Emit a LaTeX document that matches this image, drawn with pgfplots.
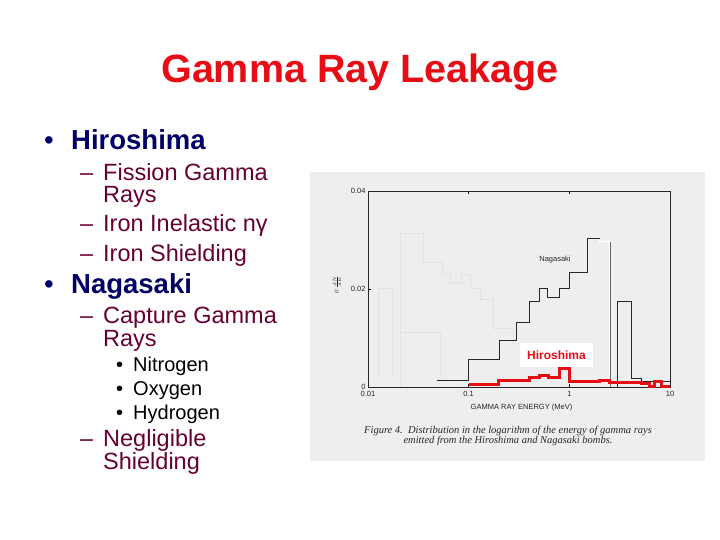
\documentclass[border=0pt]{standalone}
\usepackage{pgfplots}
\pgfplotsset{compat=1.18}
\usepackage{fontspec}
\setmainfont{Liberation Sans}
\newfontfamily\capfont{Liberation Serif}

\definecolor{titlered}{RGB}{232,12,20}
\definecolor{navy}{RGB}{0,0,102}
\definecolor{maroon}{RGB}{102,0,51}
\definecolor{imgbg}{RGB}{238,238,238}
\definecolor{ink}{RGB}{40,40,40}

\begin{document}
\begin{tikzpicture}
% slide canvas, 1pt = 1px
\path[fill=white,use as bounding box] (0,0) rectangle (720pt,-540pt);

% title
\node[anchor=base,inner sep=0,text=titlered,font=\fontsize{39.5}{46}\selectfont\bfseries]
  at (360pt,-82.7pt) {Gamma Ray Leakage};

% bullet list
\begin{scope}[every node/.style={anchor=base west,inner sep=0}]
  \node[text=navy,font=\fontsize{27.5}{30}\selectfont] at (44pt,-150pt) {•};
  \node[text=navy,font=\fontsize{27.5}{30}\selectfont\bfseries] at (71pt,-150pt) {Hiroshima};
  \node[text=maroon,font=\fontsize{23.5}{26}\selectfont] at (80pt,-180.7pt) {–};
  \node[text=maroon,font=\fontsize{23.5}{26}\selectfont] at (103pt,-180.7pt) {Fission Gamma};
  \node[text=maroon,font=\fontsize{23.5}{26}\selectfont] at (103pt,-202.7pt) {Rays};
  \node[text=maroon,font=\fontsize{23.5}{26}\selectfont] at (80pt,-232pt) {–};
  \node[text=maroon,font=\fontsize{23.5}{26}\selectfont] at (103pt,-232pt) {Iron Inelastic nγ};
  \node[text=maroon,font=\fontsize{23.5}{26}\selectfont] at (80pt,-261.7pt) {–};
  \node[text=maroon,font=\fontsize{23.5}{26}\selectfont] at (103pt,-261.7pt) {Iron Shielding};
  \node[text=navy,font=\fontsize{27.5}{30}\selectfont] at (44pt,-293pt) {•};
  \node[text=navy,font=\fontsize{27.5}{30}\selectfont\bfseries] at (71pt,-293pt) {Nagasaki};
  \node[text=maroon,font=\fontsize{23.5}{26}\selectfont] at (80pt,-323pt) {–};
  \node[text=maroon,font=\fontsize{23.5}{26}\selectfont] at (103pt,-323pt) {Capture Gamma};
  \node[text=maroon,font=\fontsize{23.5}{26}\selectfont] at (103pt,-346pt) {Rays};
  \node[text=black,font=\fontsize{20}{22}\selectfont] at (116pt,-371.7pt) {•};
  \node[text=black,font=\fontsize{20}{22}\selectfont] at (133pt,-371.7pt) {Nitrogen};
  \node[text=black,font=\fontsize{20}{22}\selectfont] at (116pt,-395.7pt) {•};
  \node[text=black,font=\fontsize{20}{22}\selectfont] at (133pt,-395.7pt) {Oxygen};
  \node[text=black,font=\fontsize{20}{22}\selectfont] at (116pt,-419.3pt) {•};
  \node[text=black,font=\fontsize{20}{22}\selectfont] at (133pt,-419.3pt) {Hydrogen};
  \node[text=maroon,font=\fontsize{23.5}{26}\selectfont] at (80pt,-446.7pt) {–};
  \node[text=maroon,font=\fontsize{23.5}{26}\selectfont] at (103pt,-446.7pt) {Negligible};
  \node[text=maroon,font=\fontsize{23.5}{26}\selectfont] at (103pt,-469pt) {Shielding};
\end{scope}

% scanned figure background
\fill[imgbg] (310pt,-172pt) rectangle (705pt,-461pt);

\begin{axis}[
    at={(368pt,-387pt)}, anchor=south west,
    scale only axis, width=302pt, height=196pt,
    xmode=log, xmin=0.01, xmax=10, ymin=0, ymax=0.04,
    xtick={0.01,0.1,1,10}, xticklabels={0.01,0.1,1,10},
    ytick={0,0.02,0.04}, yticklabels={0,0.02,0.04},
    scaled y ticks=false,
    xminorticks=false, ytick pos=left,
    tick align=inside, major tick length=3pt,
    tick style={black, line width=0.6pt},
    axis line style={line width=0.9pt, black!85},
    ticklabel style={font=\fontsize{7.5}{8}\selectfont, text=ink},
    xticklabel style={yshift=-0.5pt},
    yticklabel style={xshift=1pt},
    /pgf/number format/assume math mode=true,
    clip=false,
  ]
  % faint show-through of the reverse page
  \addplot[black!11, line width=0.6pt, const plot] coordinates {
    (0.0208,0) (0.0208,0.0314) (0.0352,0.0255) (0.0543,0.0233) (0.0652,0.0212)
    (0.0852,0.0229) (0.103,0.0202) (0.1295,0.0178) (0.174,0.0120) (0.275,0.0090) (0.35,0.0090)
  };
  \addplot[black!11, line width=0.6pt] coordinates {
    (0.0126,0.0025) (0.0126,0.0202) (0.0173,0.0202) (0.0173,0.0025)
  };
  \addplot[black!11, line width=0.6pt] coordinates {
    (0.0208,0.0112) (0.0518,0.0112) (0.0518,0.0020)
  };

  % Nagasaki
  \addplot[black!85, line width=0.9pt, const plot] coordinates {
    (0.049,0.0013) (0.1,0.0057) (0.2,0.0094) (0.3,0.0131) (0.4,0.0174)
    (0.5,0.0201) (0.6,0.0183) (0.8,0.0201) (1.0,0.0233) (1.5,0.0303) (2.0,0.0303)
  };
  \addplot[white, line width=0.9pt] coordinates {
    (2.0,0.0303) (2.0,0.0297) (2.5,0.0297) (2.5,0)
  };
  \addplot[black!60, line width=0.6pt] coordinates {(2.58,0.0296) (2.58,0)};
  \addplot[black!85, line width=0.9pt, const plot] coordinates {
    (2.58,0) (3.0,0.0174) (4.1,0.0018) (5.2,0.0011) (10,0.0011)
  };

  % Hiroshima
  \addplot[titlered, line width=3pt, const plot] coordinates {
    (0.1,0.0006) (0.2,0.0014) (0.4,0.0019) (0.5,0.0023) (0.62,0.0019)
    (0.8,0.0038) (1.0,0.0012) (2.0,0.0014) (2.5,0.0009) (5.2,0.00075)
    (6.2,0.0002) (7.0,0.0012) (8.3,0.0002) (10,0.0002)
  };

  \node[font=\fontsize{7.5}{8}\selectfont, text=ink, inner sep=0] at (axis cs:0.72,0.0261) {Nagasaki};
  \node[fill=white, minimum width=73pt, minimum height=24pt, inner sep=0,
        text=titlered, font=\fontsize{12}{14}\selectfont\bfseries] at (axis cs:0.745,0.00653) {Hiroshima};
\end{axis}

% axis title, y label and caption of the scanned figure
\node[font=\fontsize{7.5}{8}\selectfont, text=ink] at (521.5pt,-408pt) {GAMMA RAY ENERGY (MeV)};
\node[rotate=90, text=ink, inner sep=0] at (337pt,-285pt) {\tiny$E\,\frac{dN}{dE}$};
\node[align=center, text=ink, inner sep=0, font=\capfont\itshape\fontsize{10.5}{10}\selectfont]
  at (508pt,-436pt) {Figure 4.\enspace Distribution in the logarithm of the energy of gamma rays\\emitted from the Hiroshima and Nagasaki bombs.};
\end{tikzpicture}
\end{document}
